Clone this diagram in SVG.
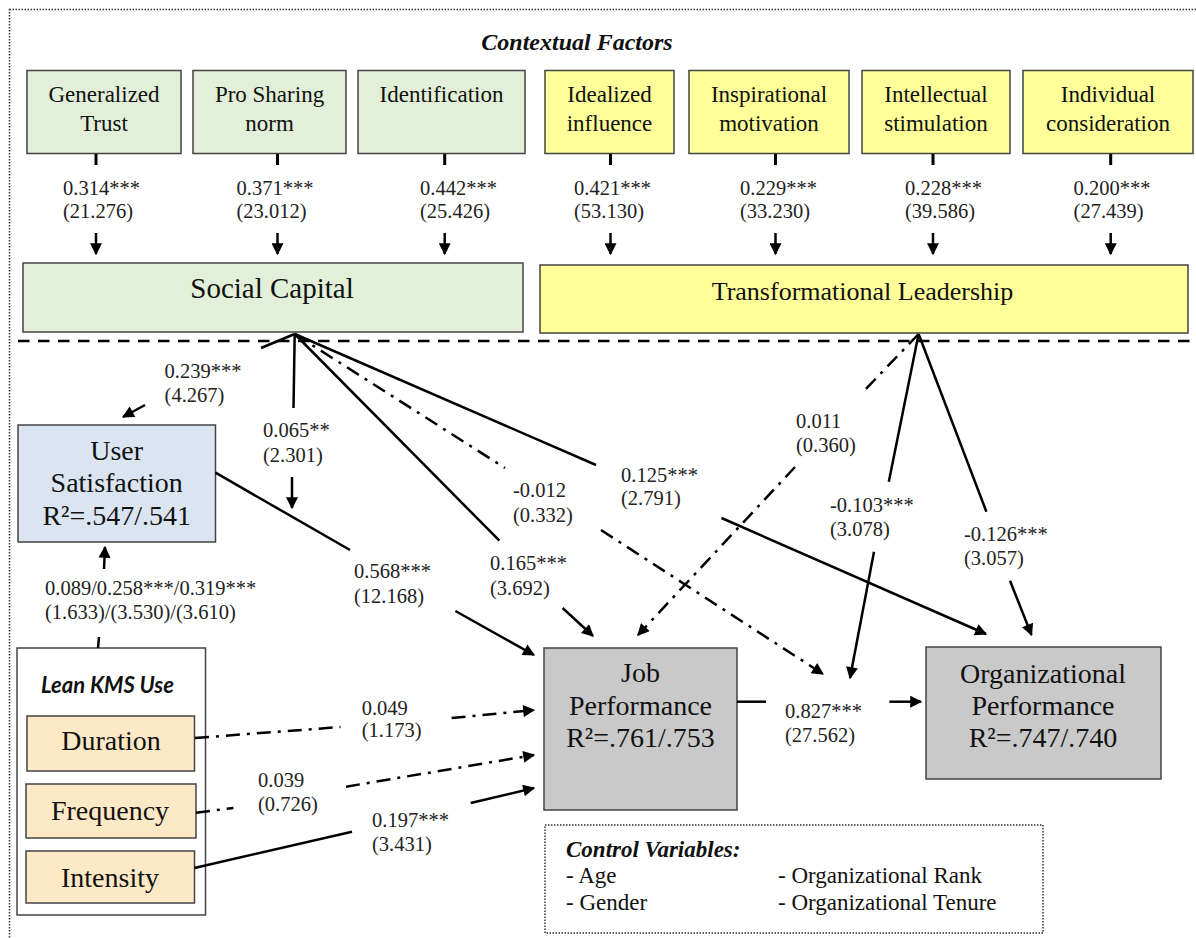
<svg xmlns="http://www.w3.org/2000/svg" width="1196" height="938" viewBox="0 0 1196 938">
<defs>
<marker id="ah" viewBox="0 0 10 10" refX="9" refY="5" markerWidth="15" markerHeight="12" markerUnits="userSpaceOnUse" orient="auto">
<path d="M0,0 L10,5 L0,10 z" fill="#000"/>
</marker>
<style>
.bx{stroke:#444;stroke-width:1.5}
.g{fill:#e2efd9}.y{fill:#ffff99}.b{fill:#dbe5f1}.gr{fill:#c9c9c9}.o{fill:#fde9c6}.w{fill:#fff}
.t{font-family:"Liberation Serif","Times New Roman",serif;fill:#111;text-anchor:middle}
.t23{font-size:23px}.t28{font-size:28px}
.lb{font-family:"Liberation Serif","Times New Roman",serif;font-size:20.5px;fill:#222}
.c{fill:none;stroke:#000;stroke-width:2.5}
.dd{stroke-dasharray:14 7 3 7}
.tk{stroke:#000;stroke-width:3}
</style>
</defs>
<rect x="9.5" y="9.5" width="1200" height="950" fill="none" stroke="#333" stroke-width="1.5" stroke-dasharray="1.5 1.5"/>
<text x="577" y="50" class="t" style="font-size:24px;font-weight:bold;font-style:italic">Contextual Factors</text>

<g id="n-generalized-trust"><rect class="bx g" x="27" y="70.5" width="154" height="83"/><text class="t t23" x="104" y="102">Generalized</text><text class="t t23" x="104" y="131">Trust</text></g>
<g id="n-pro-sharing"><rect class="bx g" x="193" y="70.5" width="153" height="83"/><text class="t t23" x="269.5" y="102">Pro Sharing</text><text class="t t23" x="269.5" y="131">norm</text></g>
<g id="n-identification"><rect class="bx g" x="358" y="70.5" width="167" height="83"/><text class="t t23" x="441.5" y="102">Identification</text></g>
<g id="n-idealized"><rect class="bx y" x="545" y="70.5" width="129" height="83"/><text class="t t23" x="609.5" y="102">Idealized</text><text class="t t23" x="609.5" y="131">influence</text></g>
<g id="n-inspirational"><rect class="bx y" x="689" y="70.5" width="160" height="83"/><text class="t t23" x="769" y="102">Inspirational</text><text class="t t23" x="769" y="131">motivation</text></g>
<g id="n-intellectual"><rect class="bx y" x="862" y="70.5" width="148" height="83"/><text class="t t23" x="936" y="102">Intellectual</text><text class="t t23" x="936" y="131">stimulation</text></g>
<g id="n-individual"><rect class="bx y" x="1023" y="70.5" width="170" height="83"/><text class="t t23" x="1108" y="102">Individual</text><text class="t t23" x="1108" y="131">consideration</text></g>

<g id="n-social-capital"><rect class="bx g" x="23" y="263" width="500" height="69"/><text class="t" style="font-size:29px" x="272" y="298">Social Capital</text></g>
<g id="n-transformational"><rect class="bx y" x="540" y="265" width="648" height="68"/><text class="t" style="font-size:26px" x="862.5" y="300">Transformational Leadership</text></g>

<g id="n-user-satisfaction"><rect class="bx b" x="18" y="425" width="197.5" height="117"/><text class="t t28" x="116.7" y="460">User</text><text class="t t28" x="116.7" y="492">Satisfaction</text><text class="t t28" x="116.7" y="525">R²=.547/.541</text></g>

<g id="n-lean-kms"><rect class="bx w" x="17" y="648" width="188.5" height="267"/><text x="107.5" y="693" style="font-family:Lato,'Liberation Sans',sans-serif;font-size:22px;font-weight:bold;font-style:italic;fill:#111;text-anchor:middle">Lean KMS Use</text></g>
<g id="n-duration"><rect class="bx o" x="27" y="716" width="167.5" height="55"/><text class="t t28" x="111" y="750">Duration</text></g>
<g id="n-frequency"><rect class="bx o" x="26" y="784" width="170" height="54"/><text class="t t28" x="110" y="820">Frequency</text></g>
<g id="n-intensity"><rect class="bx o" x="26" y="851" width="168.5" height="52"/><text class="t t28" x="110" y="887">Intensity</text></g>

<g id="n-job-performance"><rect class="bx gr" x="544" y="648" width="193" height="162"/><text class="t t28" x="640.5" y="682">Job</text><text class="t t28" x="640.5" y="715">Performance</text><text class="t t28" x="640.5" y="747">R²=.761/.753</text></g>
<g id="n-org-performance"><rect class="bx gr" x="926" y="647" width="235" height="132"/><text class="t t28" x="1043" y="683">Organizational</text><text class="t t28" x="1043" y="715">Performance</text><text class="t t28" x="1043" y="747">R²=.747/.740</text></g>

<g id="n-control"><rect x="545" y="825" width="498" height="108" fill="#fff" stroke="#333" stroke-width="1.5" stroke-dasharray="1.5 1.5"/>
<text x="566" y="857" style="font-family:'Liberation Serif',serif;font-size:23px;font-weight:bold;font-style:italic;fill:#111">Control Variables:</text>
<text x="566" y="883" style="font-family:'Liberation Serif',serif;font-size:23px;fill:#111">- Age</text>
<text x="566" y="910" style="font-family:'Liberation Serif',serif;font-size:23px;fill:#111">- Gender</text>
<text x="778" y="883" style="font-family:'Liberation Serif',serif;font-size:23px;fill:#111">- Organizational Rank</text>
<text x="778" y="910" style="font-family:'Liberation Serif',serif;font-size:23px;fill:#111">- Organizational Tenure</text>
</g>

<g id="connectors">
<line x1="18" y1="341" x2="1196" y2="341" stroke="#000" stroke-width="2.7" stroke-dasharray="11.5 8.5"/>
<g class="tk">
<line x1="96" y1="154" x2="96" y2="165"/><line x1="277.5" y1="154" x2="277.5" y2="165"/><line x1="444.7" y1="154" x2="444.7" y2="165"/><line x1="610.5" y1="154" x2="610.5" y2="165"/><line x1="775.5" y1="154" x2="775.5" y2="165"/><line x1="933" y1="154" x2="933" y2="165"/><line x1="1110.7" y1="154" x2="1110.7" y2="165"/>
</g>
<g class="c" marker-end="url(#ah)">
<line x1="96" y1="233" x2="96" y2="254"/><line x1="277.5" y1="233" x2="277.5" y2="254"/><line x1="444.7" y1="233" x2="444.7" y2="254"/><line x1="610.5" y1="233" x2="610.5" y2="254"/><line x1="775.5" y1="233" x2="775.5" y2="254"/><line x1="933" y1="233" x2="933" y2="254"/><line x1="1110.7" y1="233" x2="1110.7" y2="254"/>
</g>
<line class="c" x1="294.7" y1="334" x2="261" y2="348"/>
<line class="c" x1="145" y1="405" x2="123" y2="417" marker-end="url(#ah)"/>
<line class="c" x1="294.7" y1="334" x2="293.5" y2="408"/>
<line class="c" x1="292" y1="477" x2="292" y2="508" marker-end="url(#ah)"/>
<line class="c" x1="294.7" y1="334" x2="499.4" y2="540.7"/>
<line class="c" x1="562.6" y1="608" x2="593" y2="636" marker-end="url(#ah)"/>
<line class="c dd" x1="294.7" y1="334" x2="505" y2="468"/>
<line class="c dd" x1="601" y1="530" x2="823" y2="674" marker-end="url(#ah)"/>
<line class="c" x1="294.7" y1="334" x2="596" y2="465"/>
<line class="c" x1="721.5" y1="518" x2="986" y2="634" marker-end="url(#ah)"/>
<line class="c dd" x1="918.6" y1="334" x2="862" y2="393"/>
<line class="c dd" x1="795" y1="467" x2="638" y2="635" marker-end="url(#ah)"/>
<line class="c" x1="918.6" y1="334" x2="888.8" y2="481.7"/>
<line class="c" x1="874" y1="551.7" x2="850" y2="678" marker-end="url(#ah)"/>
<line class="c" x1="918.6" y1="334" x2="986.4" y2="511.7"/>
<line class="c" x1="1010" y1="580.7" x2="1031.5" y2="635" marker-end="url(#ah)"/>
<line class="c" x1="215.5" y1="472.7" x2="350" y2="550"/>
<line class="c" x1="455.4" y1="611" x2="534" y2="655" marker-end="url(#ah)"/>
<line class="c" x1="98" y1="648" x2="99" y2="637"/>
<line class="c" x1="104" y1="569" x2="105" y2="547" marker-end="url(#ah)"/>
<line class="c dd" x1="195" y1="738" x2="340.6" y2="727"/>
<line class="c dd" x1="451.6" y1="718" x2="534" y2="710" marker-end="url(#ah)"/>
<line class="c dd" x1="196" y1="812.7" x2="233.4" y2="808"/>
<line class="c dd" x1="346" y1="786.7" x2="534" y2="755" marker-end="url(#ah)"/>
<line class="c" x1="194.4" y1="868" x2="352" y2="831.7"/>
<line class="c" x1="470.7" y1="803" x2="534" y2="788" marker-end="url(#ah)"/>
<line class="c" x1="737" y1="701.7" x2="766" y2="701.7"/>
<line class="c" x1="889.4" y1="701.7" x2="921" y2="701.7" marker-end="url(#ah)"/>

<text class="lb" x="63" y="195">0.314***</text><text class="lb" x="63" y="218">(21.276)</text>
<text class="lb" x="236.5" y="195">0.371***</text><text class="lb" x="236.5" y="218">(23.012)</text>
<text class="lb" x="420" y="195">0.442***</text><text class="lb" x="420" y="218">(25.426)</text>
<text class="lb" x="574" y="195">0.421***</text><text class="lb" x="574" y="218">(53.130)</text>
<text class="lb" x="740" y="195">0.229***</text><text class="lb" x="740" y="218">(33.230)</text>
<text class="lb" x="905" y="195">0.228***</text><text class="lb" x="905" y="218">(39.586)</text>
<text class="lb" x="1073.6" y="195">0.200***</text><text class="lb" x="1073.6" y="218">(27.439)</text>

<text class="lb" x="164.6" y="378">0.239***</text><text class="lb" x="164.6" y="401.7">(4.267)</text>
<text class="lb" x="263" y="436.7">0.065**</text><text class="lb" x="263" y="461.7">(2.301)</text>
<text class="lb" x="513" y="496.7">-0.012</text><text class="lb" x="513" y="521.7">(0.332)</text>
<text class="lb" x="490" y="570">0.165***</text><text class="lb" x="490" y="595">(3.692)</text>
<text class="lb" x="354" y="578.3">0.568***</text><text class="lb" x="354" y="603.3">(12.168)</text>
<text class="lb" x="45" y="595">0.089/0.258***/0.319***</text><text class="lb" x="45" y="619.3">(1.633)/(3.530)/(3.610)</text>
<text class="lb" x="621" y="481.7">0.125***</text><text class="lb" x="621" y="505">(2.791)</text>
<text class="lb" x="796" y="428.3">0.011</text><text class="lb" x="796" y="451.7">(0.360)</text>
<text class="lb" x="830" y="511.7">-0.103***</text><text class="lb" x="830" y="536">(3.078)</text>
<text class="lb" x="964" y="540.7">-0.126***</text><text class="lb" x="964" y="565">(3.057)</text>
<text class="lb" x="361.7" y="714.5">0.049</text><text class="lb" x="361.7" y="737">(1.173)</text>
<text class="lb" x="258" y="786.7">0.039</text><text class="lb" x="258" y="810.7">(0.726)</text>
<text class="lb" x="372" y="826.7">0.197***</text><text class="lb" x="372" y="850.7">(3.431)</text>
<text class="lb" x="785" y="718">0.827***</text><text class="lb" x="785" y="741.5">(27.562)</text>
</g>
</svg>
